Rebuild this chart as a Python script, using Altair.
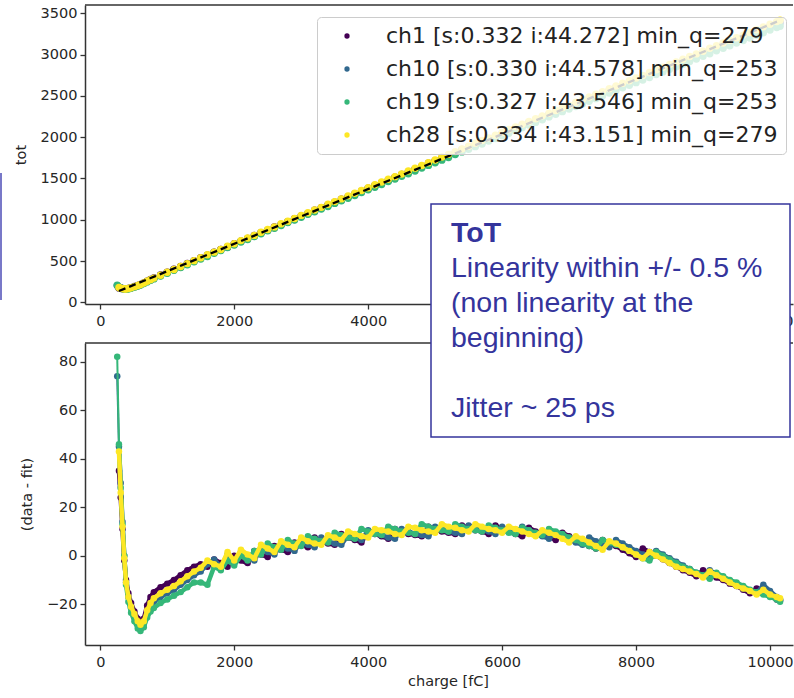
import altair as alt
import pandas as pd

# ---- channels and their linear fits -------------------------------------
channels = ["ch1", "ch10", "ch19", "ch28"]
slopes = [0.332, 0.330, 0.327, 0.334]
intercepts = [44.272, 44.578, 43.546, 43.151]
min_q = [279, 253, 253, 279]
colors = ["#440154", "#31688e", "#35b779", "#fde725"]

# ---- injected charge points [fC] ----------------------------------------
charge = [253, 279, 305, 332, 358, 385, 420, 460, 510, 560, 600, 650, 700, 750,
          800, 900, 1000, 1100, 1200, 1300, 1400, 1500, 1600, 1700, 1800, 1900,
          2000, 2100, 2200, 2300, 2400, 2500, 2600, 2700, 2800, 2900, 3000, 3100,
          3200, 3300, 3400, 3500, 3600, 3700, 3800, 3900, 4000, 4100, 4200, 4300,
          4400, 4500, 4600, 4700, 4800, 4900, 5000, 5100, 5200, 5300, 5400, 5500,
          5600, 5700, 5800, 5900, 6000, 6100, 6200, 6300, 6400, 6500, 6600, 6700,
          6800, 6900, 7000, 7100, 7200, 7300, 7400, 7500, 7600, 7700, 7800, 7900,
          8000, 8100, 8200, 8300, 8400, 8500, 8600, 8700, 8800, 8900, 9000, 9100,
          9200, 9300, 9400, 9500, 9600, 9700, 9800, 9900, 10000, 10100, 10150]

# ---- residuals (data - fit) per channel, None below min_q ----------------
resid_ch1 = [None, 35, 24, 11, -2, -10, -15.5, -19.5, -23, -26, -27.5, -26, -20.5, -17,
             -15, -13, -11.5, -10, -8, -6, -4.5, -3.5, -4.5, -1.5, -3, -4.5,
             0, -2, -3, 2, 0.5, -0.5, 4, 2.5, 1.5, 5.5, 4.5, 3.5,
             7.5, 6, 5, 4.5, 9, 7.5, 6.5, 5.5, 10, 9, 8, 7,
             11, 10, 9, 8.5, 8, 12, 11, 10, 9.5, 9, 12.5, 11.5,
             10.5, 10, 9, 12.5, 11, 10, 9, 8, 11.5, 10, 9, 8,
             6.5, 9.5, 8, 6.5, 5.5, 4, 3, 6.5, 5, 4, 2.5, 1,
             -0.5, 3, 1.5, 0, -1.5, -3, -4.5, -6, -7, -8.5, -6, -7.5,
             -9, -10, -11.5, -12.5, -14, -15.5, -13.5, -15, -16.5, -18, -18.5]

resid_ch10 = [74, 45, 30, 14, 0, -11, -17, -21.5, -25, -28, -29.5, -28, -24, -21,
              -19, -17, -15.5, -14, -12, -10, -8, -6.5, -3.5, -1.5, -4.5, 0.5,
              -2.5, 1.5, -0.5, -2, 3, 1.5, 0.5, 4.5, 3, 2, 6, 4.5,
              3.5, 7.5, 6, 5, 4.5, 8.5, 7.5, 6.5, 10.5, 9.5, 8.5, 7.5,
              7, 11, 10, 9, 8.5, 8, 12, 11, 10, 9.5, 9, 12.5,
              11.5, 10.5, 10, 9, 12, 10.5, 9.5, 12, 10.5, 9, 8, 7,
              9.5, 8, 6.5, 5.5, 4.5, 7.5, 6, 4.5, 3.5, 6.5, 5, 3.5,
              2, 0.5, -1, 2, 0.5, -1, -2.5, -4, -5.5, -7, -8.5, -6,
              -7.5, -9, -10.5, -12, -13.5, -14.5, -15.5, -12, -14.5, -17, -18]

resid_ch19 = [82, 46, 28, 13, 0, -12, -19, -23.5, -27, -30, -31, -29.5, -25.5, -23,
              -21.5, -19.5, -18, -16.5, -15, -13, -11, -11, -12, -4.5, -6, -2,
              -4, 0, -2, 2, 0.5, 5, 3.5, 2.5, 6.5, 5, 4, 8,
              7, 6, 5.5, 9.5, 8.5, 7.5, 7, 11, 10, 9, 8.5, 12,
              11, 10, 9.5, 9, 13, 12, 11, 10.5, 10, 13, 12, 11,
              10.5, 10, 12.5, 11.5, 10.5, 9.5, 9, 11.5, 10.5, 9.5, 8.5, 11,
              10, 9, 7.5, 6.5, 5, 4, 3, 6.5, 5.5, 4.5, 3.5, 2,
              0.5, -1, -2, 1.5, 0, -1.5, -3, -4.5, -5.5, -7, -8, -9.5,
              -7, -8.5, -10, -11, -12.5, -14, -15, -16, -17, -18, -19]

resid_ch28 = [None, 43, 26, 12, -1, -11, -17, -21, -24, -27, -28.5, -27, -22.5, -19.5,
              -17.5, -15.5, -14, -12.5, -10.5, -8.5, -6.5, -5, -2, -3.5, -4.5, 1.5,
              -2, 2.5, 0.5, -1, 4.5, 3, 1.5, 6, 4.5, 3.5, 7.5, 6,
              5, 4.5, 8.5, 7.5, 6.5, 10, 9, 8, 7.5, 11, 10.5, 10,
              9, 8.5, 12, 11.5, 10.5, 10, 9.5, 13, 12, 11.5, 10.5, 10,
              13, 12, 11, 10.5, 9.5, 12, 11, 10, 9, 8, 10.5, 9.5,
              8.5, 7, 5.5, 8, 7, 5.5, 4, 2.5, 6, 5, 3.5, 2,
              0.5, -1, 1.5, 0, -1.5, -3, -4.5, -5.5, -6.5, -7.5, -9, -6.5,
              -8, -9.5, -11, -12.5, -13.5, -14.5, -16, -14, -16, -17, -17.5]

residuals = [resid_ch1, resid_ch10, resid_ch19, resid_ch28]

# ---- axis ticks ----------------------------------------------------------
x_ticks = [0, 2000, 4000, 6000, 8000, 10000]
tot_ticks = [0, 500, 1000, 1500, 2000, 2500, 3000, 3500]
res_ticks = [-20, 0, 20, 40, 60, 80]

note_head = "ToT"
note_body = "Linearity within +/- 0.5 %\n(non linearity at the\nbeginning)"
note_tail = "Jitter ~ 25 ps"

# ---- long table ----------------------------------------------------------
labels = [f"{c} [s:{s:.3f} i:{i:.3f}] min_q={m}"
          for c, s, i, m in zip(channels, slopes, intercepts, min_q)]
rows = []
for k, (ch, lab, s, i, res) in enumerate(zip(channels, labels, slopes, intercepts, residuals)):
    for q, r in zip(charge, res):
        if r is None:
            continue
        rows.append({"series": k, "channel": ch, "label": lab, "charge": q,
                     "resid": r, "tot": s * q + i + r})
df = pd.DataFrame(rows)

fit_q = [min_q[0], charge[-1]]
fit_df = pd.DataFrame({"charge": fit_q,
                       "tot": [slopes[0] * q + intercepts[0] for q in fit_q]})
one = pd.DataFrame({"k": [0]})
note = pd.DataFrame({"head": [note_head], "body": [note_body], "tail": [note_tail]})

# ---- geometry ------------------------------------------------------------
W = 708
H_TOP = 299
H_BOT = 302
X_DOM = [-228, 10343]
INK = "#333333"
NOTE = "#34349c"
SPLIT_Q = max(min_q)  # first points below this are joined by a thin segment

x_scale = alt.Scale(domain=X_DOM, nice=False, zero=False)

# ---- upper panel: ToT vs charge -----------------------------------------
x_top = alt.X("charge:Q", scale=x_scale,
              axis=alt.Axis(values=x_ticks, format="d", title=None, labelPadding=5))
y_top = alt.Y("tot:Q", scale=alt.Scale(domain=[-20.6, 3600.5], nice=False, zero=False),
              axis=alt.Axis(values=tot_ticks, format="d", title="tot",
                            labelPadding=3, titlePadding=12))

top_edge = alt.Chart(one).mark_rule(color=INK, strokeWidth=1.5).encode(
    x=alt.value(0), x2=alt.value(W), y=alt.value(0))
side_bar = alt.Chart(one).mark_rule(color="#7878c8", strokeWidth=2).encode(
    x=alt.value(-84), y=alt.value(168), y2=alt.value(295))

scatter = alt.Chart(df).mark_circle(size=55, opacity=1).encode(
    x=x_top, y=y_top,
    order=alt.Order("series:Q"),
    color=alt.Color(
        "label:N", sort=labels,
        scale=alt.Scale(domain=labels, range=colors),
        legend=alt.Legend(
            title=None, orient="none", legendX=232, legendY=12, direction="vertical",
            fillColor="rgba(255,255,255,0.8)", strokeColor="#cccccc", cornerRadius=4,
            padding=8, labelFont="DejaVu Sans", labelFontSize=22, labelColor="#222222",
            labelLimit=600, labelOffset=28, symbolOffset=11, symbolType="circle",
            symbolSize=28, symbolStrokeWidth=0, symbolOpacity=1, rowPadding=11)))

fit_line = alt.Chart(fit_df).mark_line(color="black", strokeDash=[7, 4], strokeWidth=2.3).encode(
    x=alt.X("charge:Q", scale=x_scale), y="tot:Q")

top = alt.layer(top_edge, side_bar, scatter, fit_line).properties(width=W, height=H_TOP)

# ---- lower panel: residuals ----------------------------------------------
x_bot = alt.X("charge:Q", scale=x_scale,
              axis=alt.Axis(values=x_ticks, format="d", title="charge [fC]",
                            labelPadding=5, titlePadding=6, titleX=363))
y_bot = alt.Y("resid:Q", scale=alt.Scale(domain=[-36.8, 87.7], nice=False, zero=False),
              axis=alt.Axis(values=res_ticks, format="d", title="(data - fit)",
                            labelPadding=3, titlePadding=12))

bottom_layers = [alt.Chart(one).mark_rule(color=INK, strokeWidth=1.5).encode(
    x=alt.value(0), x2=alt.value(W), y=alt.value(0))]
for ch, col in zip(channels, colors):
    sel = alt.Chart(df).transform_filter(alt.datum.channel == ch).encode(x=x_bot, y=y_bot)
    # sparse first points: thin connecting segment
    bottom_layers.append(sel.transform_filter(alt.datum.charge <= SPLIT_Q)
                         .mark_line(color=col, strokeWidth=2))
    # dense part: thick trace
    bottom_layers.append(sel.transform_filter(alt.datum.charge >= SPLIT_Q)
                         .mark_line(color=col, strokeWidth=4.5, strokeJoin="round",
                                    strokeCap="round"))
    bottom_layers.append(sel.mark_circle(color=col, size=42, opacity=1))

box = alt.Chart(note).mark_rect(fill="white", stroke=NOTE, strokeWidth=1.5).encode(
    x=alt.value(346), x2=alt.value(705), y=alt.value(-139), y2=alt.value(94))
note_style = dict(align="left", baseline="alphabetic", font="Liberation Sans",
                  fontSize=28.5, color=NOTE)
head = alt.Chart(note).mark_text(fontWeight="bold", **note_style).encode(
    x=alt.value(366), y=alt.value(-101), text="head:N")
body = alt.Chart(note).mark_text(lineHeight=35, lineBreak="\n", **note_style).encode(
    x=alt.value(366), y=alt.value(-66), text="body:N")
tail = alt.Chart(note).mark_text(**note_style).encode(
    x=alt.value(366), y=alt.value(74), text="tail:N")
bottom_layers += [box, head, body, tail]

bottom = alt.layer(*bottom_layers).properties(width=W, height=H_BOT)

chart = (
    alt.vconcat(top, bottom, spacing=39, bounds="flush")
    .resolve_scale(color="independent")
    .configure_view(stroke=None)
    .configure_axis(domainColor=INK, domainWidth=1.5, tickColor=INK, tickWidth=1.3,
                    tickSize=5, labelFont="DejaVu Sans", labelFontSize=14.5,
                    labelColor="#262626", titleFont="DejaVu Sans", titleFontSize=14.5,
                    titleColor="#262626", titleFontWeight="normal", grid=False)
    .properties(padding={"left": 0, "top": 4, "right": 0, "bottom": 2}, background="white")
)

chart.save("out.html", embed_options={"renderer": "svg", "actions": False})
